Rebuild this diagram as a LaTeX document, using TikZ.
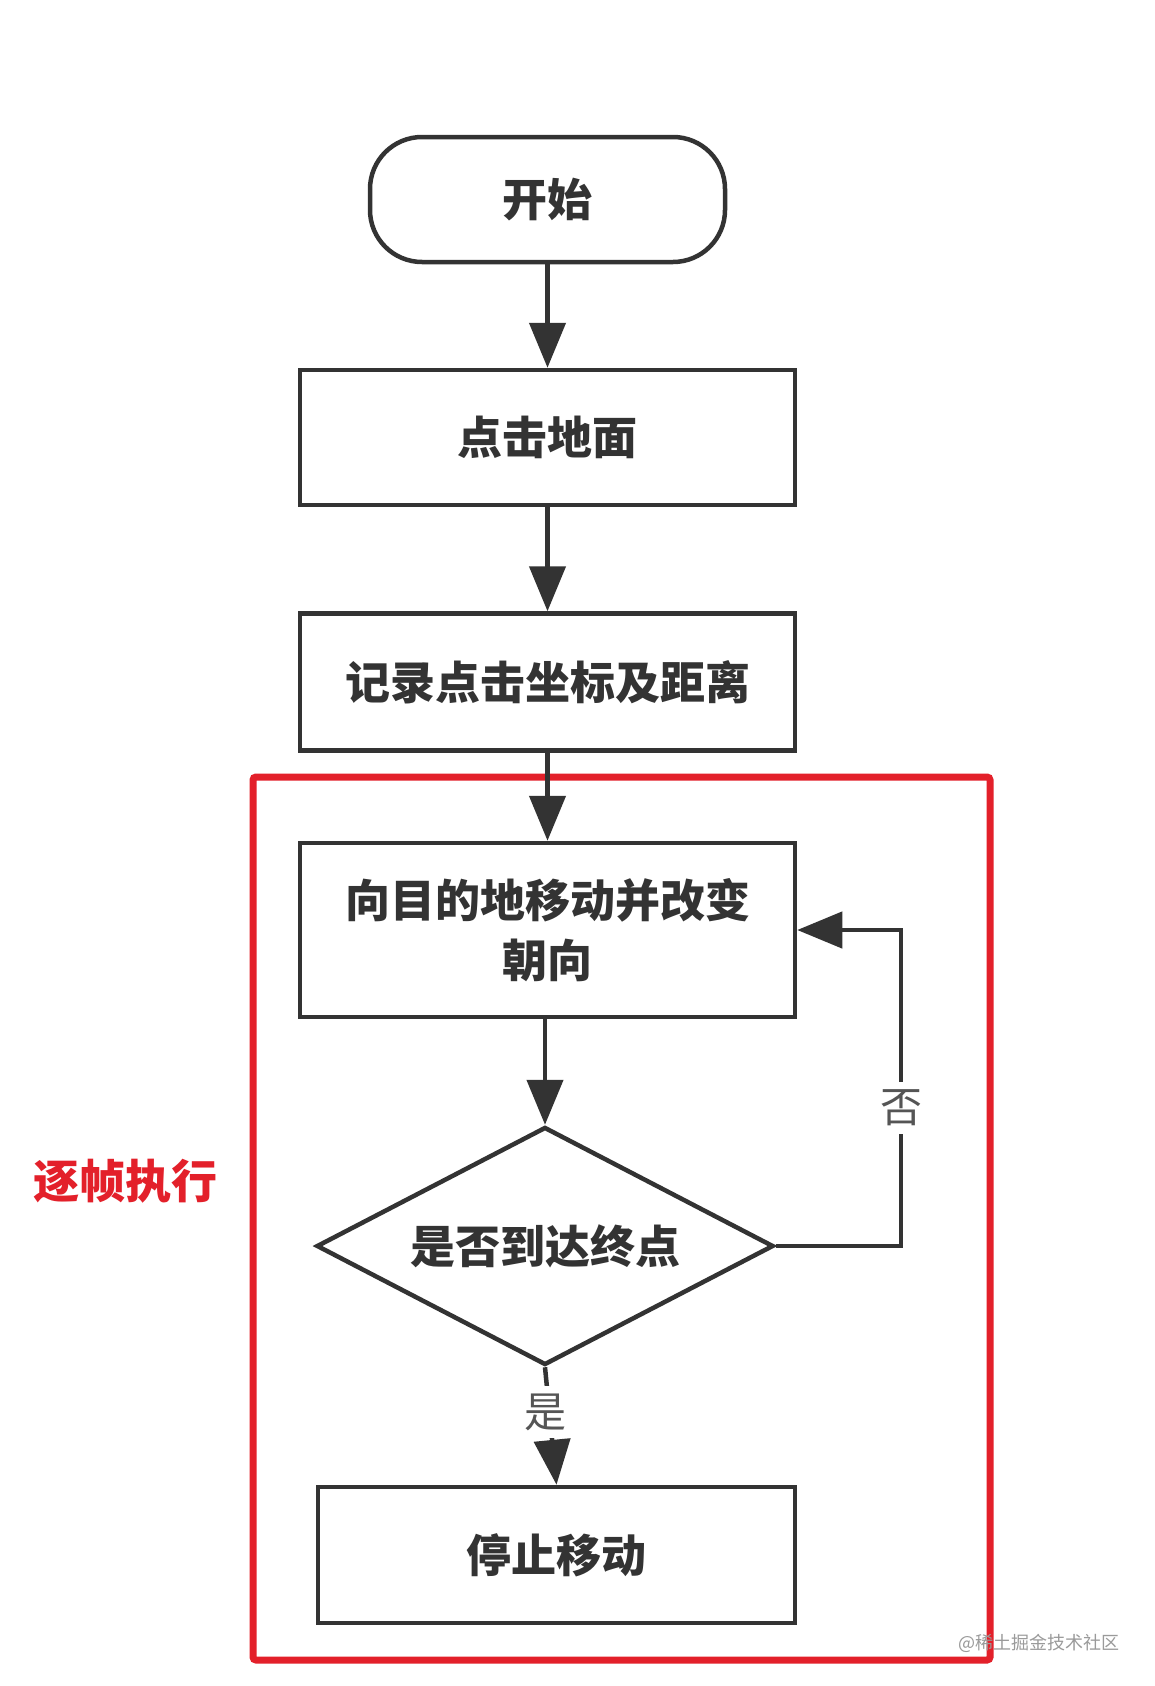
\documentclass[tikz,border=0pt]{standalone}
\usepackage{fontspec}
\setmainfont{Noto Sans CJK SC}
\usetikzlibrary{arrows.meta,shapes.geometric}
\definecolor{ink}{HTML}{333333}
\definecolor{lbl}{HTML}{555555}
\definecolor{frame}{HTML}{E3202A}
\definecolor{wm}{HTML}{9A9A9A}
\begin{document}
\begin{tikzpicture}[x=1pt,y=-1pt,
  box/.style={draw=ink, line width=4.5pt, inner sep=0pt, text=ink,
    font=\fontsize{45}{60}\selectfont\bfseries, align=center},
  term/.style={box, rounded corners=52pt},
  decision/.style={box, diamond, aspect=2},
  arr/.style={draw=ink, line width=4.5pt, -{Triangle[length=45pt,width=36pt]}},
  flowlabel/.style={fill=white, inner sep=8pt, text=lbl, font=\fontsize{42}{42}\selectfont},
  redlabel/.style={text=frame, font=\fontsize{46}{46}\selectfont\bfseries},
  loopframe/.style={draw=frame, line width=7pt, rounded corners=3pt, inner sep=0pt}
]
\fill[white] (0,0) rectangle (1154,1686);
\useasboundingbox (0,0) rectangle (1154,1686);

% red frame
\node[loopframe, minimum width=737pt, minimum height=883pt] (frm) at (621.5,1218.5) {};
\node[redlabel] (frmlabel) at (125,1181) {逐帧执行};

% flow nodes
\node[term, minimum width=355pt, minimum height=125pt] (start) at (547.5,199.5) {开始};
\node[box, minimum width=495pt, minimum height=135pt] (b1) at (547.5,437.5) {点击地面};
\node[box, minimum width=495pt, minimum height=137pt] (b2) at (547.5,682) {记录点击坐标及距离};
\node[box, minimum width=495pt, minimum height=174pt] (b3) at (547.5,930) {向目的地移动并改变\\朝向};
\node[decision, minimum width=457pt, minimum height=238pt] (dia) at (545,1246) {是否到达终点};
\node[box, minimum width=477pt, minimum height=136pt] (b4) at (556.5,1555) {停止移动};

% connectors
\draw[arr] (start.south) -- (b1.north);
\draw[arr] (b1.south) -- (b2.north);
\draw[arr] (b2.south) -- (b3.north);
\draw[arr] (b3.south -| dia.north) -- (dia.north);
\coordinate (lp) at (901,930);
\draw[arr] (dia.east) -| (lp) -- (b3.east);
\draw[arr] (dia.south) -- (b4.north);

% labels
\node[flowlabel] (nolabel) at (901,1108) {否};
\node[flowlabel] (yeslabel) at (545,1412) {是};

% watermark
\node[text=wm, font=\fontsize{18}{18}\selectfont, inner sep=0pt] (wmark) at (1039,1643) {@稀土掘金技术社区};
\end{tikzpicture}
\end{document}
